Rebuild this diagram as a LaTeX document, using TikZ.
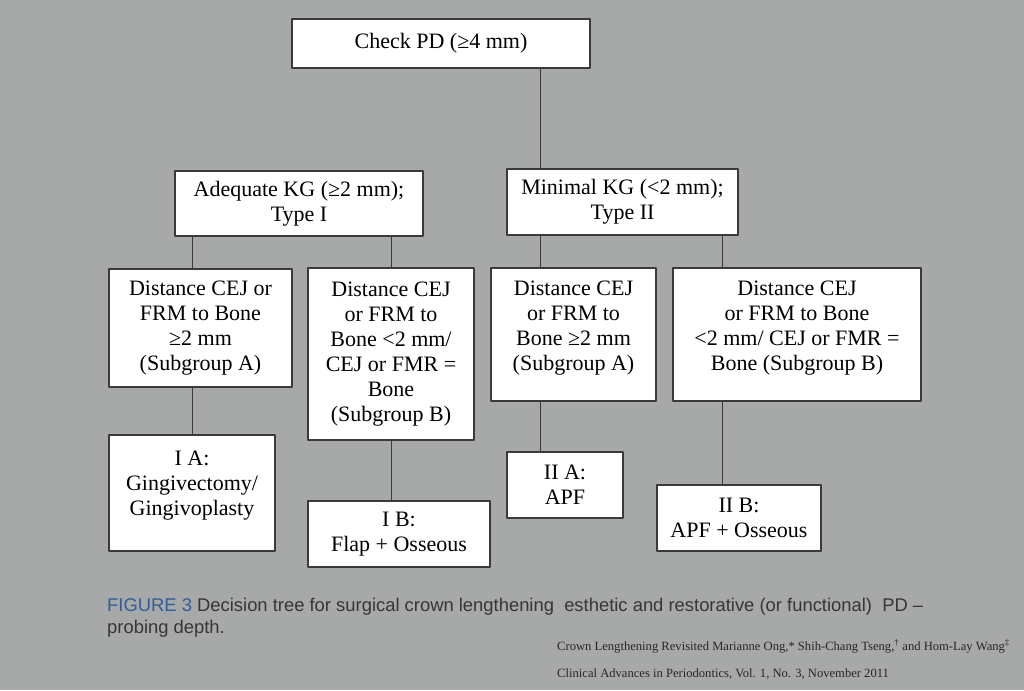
\documentclass[tikz,border=0pt]{standalone}
\usepackage{fontspec}
\setmainfont{Liberation Serif}
\newfontfamily\capfont{Liberation Sans}
\definecolor{paper}{HTML}{A7A8A8}
\definecolor{figblue}{HTML}{2F5C9A}
\definecolor{captext}{HTML}{363636}
\definecolor{edge}{HTML}{3A3A3A}
\begin{document}
\begin{tikzpicture}[x=1pt,y=-1pt,line join=round,line cap=round,
  box/.style={draw=edge,line width=1.1pt,fill=white,align=center,inner sep=0pt,font=\fontsize{22}{25}\selectfont},
  link/.style={draw=edge,line width=1pt},
  note/.style={anchor=base west,inner sep=0pt,text=black!85,font=\fontsize{12.6}{14}\selectfont}]
\fill[paper] (0,0) rectangle (1024,690);
\useasboundingbox (0,0) rectangle (1024,690);
% decision boxes
\node[box,minimum width=298pt,minimum height=49pt] (check) at (441,43.5) {Check PD (≥4 mm)};
\node[box,minimum width=248pt,minimum height=65pt] (adeq) at (299,203.5) {Adequate KG (≥2 mm);\\ Type I};
\node[box,minimum width=231pt,minimum height=66pt] (minim) at (622.5,202) {Minimal KG (<2 mm);\\ Type II};
\node[box,minimum width=183pt,minimum height=118pt] (subA1) at (200.5,328) {Distance CEJ or\\ FRM to Bone\\ ≥2 mm\\ (Subgroup A)};
\node[box,minimum width=166pt,minimum height=172pt] (subB1) at (391,354) {Distance CEJ\\ or FRM to\\ Bone <2 mm/\\ CEJ or FMR =\\ Bone\\ (Subgroup B)};
\node[box,minimum width=165pt,minimum height=133pt,text depth=17pt] (subA2) at (573.5,334.5) {Distance CEJ\\ or FRM to\\ Bone ≥2 mm\\ (Subgroup A)};
\node[box,minimum width=248pt,minimum height=133pt,text depth=17pt] (subB2) at (797,334.5) {Distance CEJ\\ or FRM to Bone\\ <2 mm/ CEJ or FMR =\\ Bone (Subgroup B)};
% treatments
\node[box,minimum width=166pt,minimum height=116pt,text depth=19pt] (IA) at (192,493) {I A:\\ Gingivectomy/\\ Gingivoplasty};
\node[box,minimum width=182pt,minimum height=66pt] (IB) at (399,534) {I B:\\ Flap + Osseous};
\node[box,minimum width=116pt,minimum height=66pt] (IIA) at (565,485) {II A:\\ APF};
\node[box,minimum width=164pt,minimum height=66pt] (IIB) at (739,518) {II B:\\ APF + Osseous};
\path (192,0) coordinate (xIA) (391,0) coordinate (xIB) (540,0) coordinate (xIIA) (722,0) coordinate (xIIB);
\foreach \u/\v/\k in {check/minim/xIIA,adeq/subA1/xIA,adeq/subB1/xIB,minim/subA2/xIIA,minim/subB2/xIIB,subA1/IA/xIA,subB1/IB/xIB,subA2/IIA/xIIA,subB2/IIB/xIIB}
  \draw[link] (\u.south -| \k) -- (\v.north -| \k);
% caption
\node[anchor=base west,inner sep=0pt,text=captext,font=\capfont\fontsize{18.4}{21}\selectfont] (cap1) at (107,611)
  {\textcolor{figblue}{FIGURE 3} Decision tree for surgical crown lengthening\ \ esthetic and restorative (or functional)\ \ PD –};
\node[anchor=base west,inner sep=0pt,text=captext,font=\capfont\fontsize{18.4}{21}\selectfont] (cap2) at (107,633) {probing depth.};
\node[note] (src1) at (557,650) {Crown Lengthening Revisited Marianne Ong,* Shih-Chang Tseng,\textsuperscript{†} and Hom-Lay Wang\textsuperscript{‡}};
\node[note] (src2) at (557,677) {Clinical Advances in Periodontics, Vol. 1, No. 3, November 2011};
\end{tikzpicture}
\end{document}
